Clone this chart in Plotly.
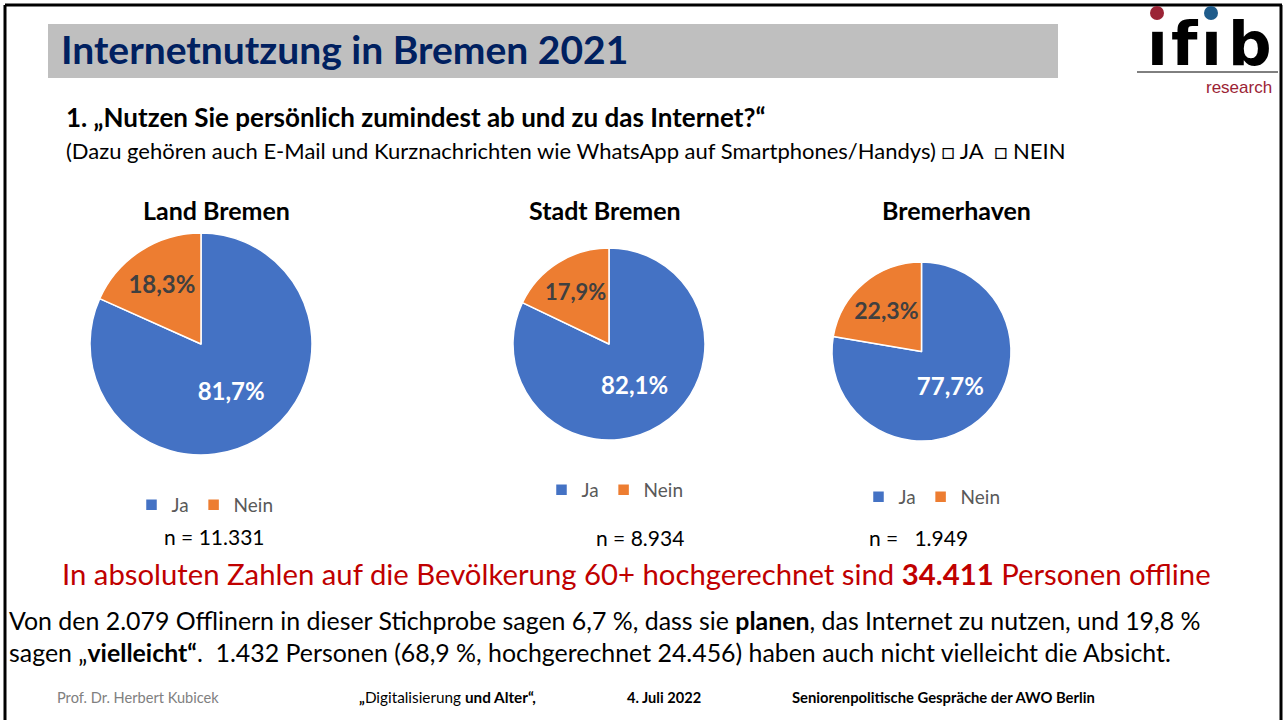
import plotly.graph_objects as go

# ---- data ----
regions = ["Land Bremen", "Stadt Bremen", "Bremerhaven"]
categories = ["Ja", "Nein"]
ja_values = [81.7, 82.1, 77.7]
nein_values = [18.3, 17.9, 22.3]
sample_sizes = ["n = 11.331", "n = 8.934", "n =   1.949"]

W, H = 1284, 720
FONT = "Lato, 'Open Sans', sans-serif"
BLUE = "#4472C4"
ORANGE = "#ED7D31"


def px(x):
    return x / W


def py(y):
    return 1 - y / H


def fmt(v):
    return f"{v:.1f}".replace(".", ",") + "%"


# pie placement (pixel boxes: left, top, right, bottom)
pie_boxes = [(90, 233, 312, 455), (513, 248, 705, 440), (832, 261, 1011, 442)]
title_pos = [(216, 210), (605, 210), (956, 210)]
legend_pos = [(205, 505), (615, 490), (932, 497)]
n_pos = [(214, 536), (640, 537), (918, 537)]
legend_ids = ["legend", "legend2", "legend3"]

fig = go.Figure()
for i, name in enumerate(regions):
    l, t, r, b = pie_boxes[i]
    vals = [ja_values[i], nein_values[i]]
    # zero-width spaces keep each pie's legend entries separate
    labels = [c + "\u200b" * i for c in categories]
    fig.add_trace(go.Pie(
        labels=labels,
        values=vals,
        text=[fmt(v) for v in vals],
        textinfo="text",
        textposition="inside",
        insidetextorientation="horizontal",
        insidetextfont=dict(family=FONT, size=24, color=["white", "#404040"], weight="bold"),
        marker=dict(colors=[BLUE, ORANGE], line=dict(color="white", width=1.5)),
        sort=False,
        direction="clockwise",
        rotation=0,
        domain=dict(x=[px(l), px(r)], y=[py(b), py(t)]),
        hoverinfo="label+percent",
        legend=legend_ids[i],
        name=name,
    ))

annotations = []
shapes = []

# frame lines
shapes.append(dict(type="line", xref="paper", yref="paper", x0=px(5), x1=px(1282), y0=py(5), y1=py(5),
                   line=dict(color="black", width=3)))
shapes.append(dict(type="line", xref="paper", yref="paper", x0=px(5), x1=px(5), y0=py(5), y1=0,
                   line=dict(color="black", width=3)))
shapes.append(dict(type="line", xref="paper", yref="paper", x0=px(1281), x1=px(1281), y0=py(5), y1=0,
                   line=dict(color="black", width=3)))

# title bar
shapes.append(dict(type="rect", xref="paper", yref="paper", x0=px(48), x1=px(1058), y0=py(78), y1=py(24),
                   fillcolor="#BFBFBF", line=dict(width=0), layer="below"))
annotations.append(dict(text="<b>Internetnutzung in Bremen 2021</b>", x=px(59), y=py(49), xanchor="left",
                        yanchor="middle", showarrow=False, font=dict(family=FONT, size=39, color="#002060")))

# logo
LOGO_FONT = "'DejaVu Sans', sans-serif"
for ch, cx in [("ı", 1157), ("f", 1185), ("ı", 1211), ("b", 1250)]:
    annotations.append(dict(text=f"<b>{ch}</b>", x=px(cx), y=py(43), xanchor="center", yanchor="middle",
                            showarrow=False, font=dict(family=LOGO_FONT, size=61, color="black")))
shapes.append(dict(type="circle", xref="paper", yref="paper", x0=px(1150), x1=px(1164), y0=py(20), y1=py(6),
                   fillcolor="#9B2335", line=dict(width=0)))
shapes.append(dict(type="circle", xref="paper", yref="paper", x0=px(1204), x1=px(1218), y0=py(20), y1=py(6),
                   fillcolor="#1F5C8B", line=dict(width=0)))
shapes.append(dict(type="line", xref="paper", yref="paper", x0=px(1137), x1=px(1278), y0=py(72), y1=py(72),
                   line=dict(color="black", width=1)))
annotations.append(dict(text="research", x=px(1274), y=py(87), xanchor="right", yanchor="middle", showarrow=False,
                        font=dict(family="'Liberation Sans', Arial, sans-serif", size=17, color="#9B2335")))

# question
annotations.append(dict(text="<b>1. „Nutzen Sie persönlich zumindest ab und zu das Internet?“</b>", x=px(64),
                        y=py(117), xanchor="left", yanchor="middle", showarrow=False,
                        font=dict(family=FONT, size=26, color="black")))
annotations.append(dict(text="(Dazu gehören auch E-Mail und Kurznachrichten wie WhatsApp auf Smartphones/Handys) □ JA  □ NEIN",
                        x=px(64), y=py(150), xanchor="left", yanchor="middle", showarrow=False,
                        font=dict(family=FONT, size=22, color="black")))

# pie titles and n
for i, name in enumerate(regions):
    annotations.append(dict(text=f"<b>{name}</b>", x=px(title_pos[i][0]), y=py(title_pos[i][1]), xanchor="center",
                            yanchor="middle", showarrow=False, font=dict(family=FONT, size=25, color="black")))
    annotations.append(dict(text=sample_sizes[i], x=px(n_pos[i][0]), y=py(n_pos[i][1]), xanchor="center",
                            yanchor="middle", showarrow=False, font=dict(family=FONT, size=21, color="black")))

# red statement
annotations.append(dict(text="In absoluten Zahlen auf die Bevölkerung 60+ hochgerechnet sind <b>34.411</b> Personen offline",
                        x=px(636), y=py(573), xanchor="center", yanchor="middle", showarrow=False,
                        font=dict(family=FONT, size=29.3, color="#C00000")))

# paragraph
annotations.append(dict(text="Von den 2.079 Offlinern in dieser Stichprobe sagen 6,7 %, dass sie <b>planen</b>, das Internet zu nutzen, und 19,8 %",
                        x=px(7), y=py(620), xanchor="left", yanchor="middle", showarrow=False,
                        font=dict(family=FONT, size=24.9, color="black")))
annotations.append(dict(text="sagen „<b>vielleicht“</b>.  1.432 Personen (68,9 %, hochgerechnet 24.456) haben auch nicht vielleicht die Absicht.",
                        x=px(7), y=py(652), xanchor="left", yanchor="middle", showarrow=False,
                        font=dict(family=FONT, size=24.9, color="black")))

# footer
foot = [("Prof. Dr. Herbert Kubicek", 55, "#808080", 14.6),
        ("<b>„</b>Digitalisierung <b>und Alter“,</b>", 357, "black", 15.3),
        ("<b>4. Juli 2022</b>", 625, "black", 14.6),
        ("<b>Seniorenpolitische Gespräche der AWO Berlin</b>", 790, "black", 14.8)]
for txt, x, c, s in foot:
    annotations.append(dict(text=txt, x=px(x), y=py(697), xanchor="left", yanchor="middle", showarrow=False,
                            font=dict(family=FONT, size=s, color=c)))

legend_common = dict(orientation="h", xanchor="center", yanchor="middle", bgcolor="rgba(0,0,0,0)",
                     font=dict(family=FONT, size=19, color="#595959"), itemwidth=30, traceorder="normal")
layout_legends = {}
for i, lid in enumerate(legend_ids):
    layout_legends[lid] = dict(x=px(legend_pos[i][0]), y=py(legend_pos[i][1]), **legend_common)

fig.update_layout(
    width=W, height=H,
    margin=dict(l=0, r=0, t=0, b=0),
    paper_bgcolor="white",
    plot_bgcolor="white",
    showlegend=True,
    annotations=annotations,
    shapes=shapes,
    **layout_legends,
)

fig.write_html("out.html", config={"displayModeBar": False},
               post_script="document.body.style.margin='0';document.body.style.padding='0';")
